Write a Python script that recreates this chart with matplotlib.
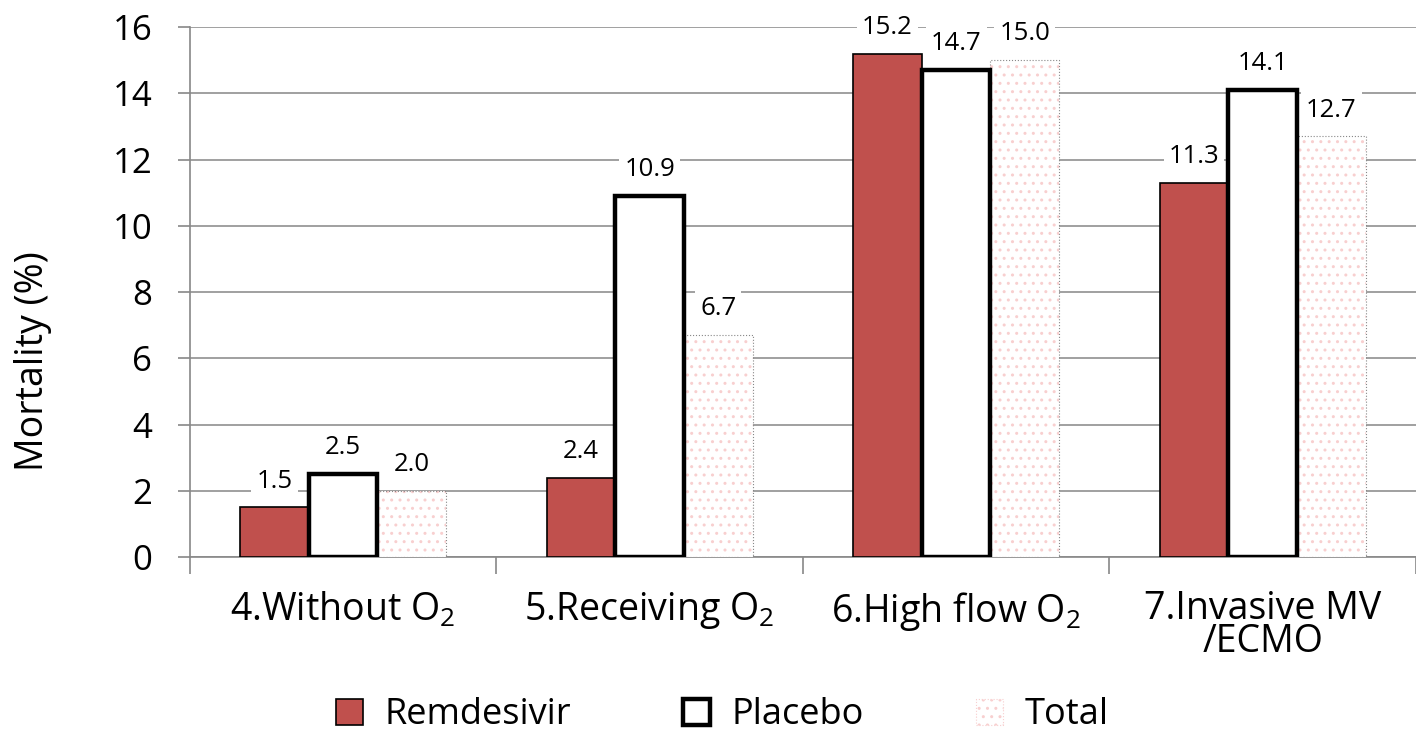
import numpy as np
import matplotlib
matplotlib.use("Agg")
import matplotlib.pyplot as plt
from matplotlib.patches import Patch

plt.rcParams['font.family'] = ['Open Sans', 'DejaVu Sans']
plt.rcParams['mathtext.default'] = 'regular'
plt.rcParams['hatch.linewidth'] = 1.0

# data
categories = ["4.Without O$_2$", "5.Receiving O$_2$", "6.High flow O$_2$", "7.Invasive MV\n/ECMO"]
remdesivir = [1.5, 2.4, 15.2, 11.3]
placebo = [2.5, 10.9, 14.7, 14.1]
total = [2.0, 6.7, 15.0, 12.7]
yticks = [0, 2, 4, 6, 8, 10, 12, 14, 16]

fig = plt.figure(figsize=(14.16, 7.33), dpi=100)
ax = fig.add_axes([0.134, 0.24, 0.866, 0.723])

x = np.arange(len(categories))
w = 0.224

red = "#C0504D"
pink = "#F8CFCF"

b1 = ax.bar(x - w, remdesivir, w, color=red, edgecolor="black", linewidth=1.2, zorder=3)
b2 = ax.bar(x, placebo, w, color="white", edgecolor="black", linewidth=3.2, zorder=4)
b3 = ax.bar(x + w, total, w, color="white", edgecolor=pink, linewidth=0, hatch="..", zorder=3)
ax.bar(x + w, total, w, fill=False, edgecolor="#888888", linewidth=0.8, linestyle=":", zorder=3)

# value labels
for bars, vals in [(b1, remdesivir), (b2, placebo), (b3, total)]:
    for bar, v in zip(bars, vals):
        ax.annotate(f"{v:.1f}", (bar.get_x() + bar.get_width() / 2, v),
                    xytext=(0, 10), textcoords="offset points", ha="center", va="bottom",
                    fontsize=18.5, zorder=5, annotation_clip=False,
                    bbox=dict(boxstyle="square,pad=0.2", fc="white", ec="none"))

ax.set_xlim(-0.5, len(categories) - 0.5)
ax.set_ylim(0, 16)
ax.set_yticks(yticks)
ax.tick_params(axis="y", labelsize=25, length=9, color="#888888", width=1.2, pad=18)
ax.yaxis.grid(True, color="#999999", linewidth=1.3, zorder=0)
ax.set_axisbelow(True)

# tick marks at category boundaries, labels at centres
ax.set_xticks(np.arange(-0.5, len(categories), 1.0))
ax.set_xticklabels([])
ax.tick_params(axis="x", which="major", length=12, color="#888888", width=1.2)
ax.set_xticks(x, minor=True)
ax.set_xticklabels(categories, minor=True, fontsize=27, linespacing=0.8)
ax.tick_params(axis="x", which="minor", length=0, pad=24)

for s in ["top", "right"]:
    ax.spines[s].set_visible(False)
ax.spines["left"].set_color("#888888")
ax.spines["left"].set_linewidth(1.2)
ax.spines["bottom"].set_color("#888888")
ax.spines["bottom"].set_linewidth(1.2)

ax.set_ylabel("Mortality (%)", fontsize=27, va="center")
ax.yaxis.set_label_coords(-0.128, 0.37)

handles = [
    Patch(facecolor=red, edgecolor="black", linewidth=1.2),
    Patch(facecolor="white", edgecolor="black", linewidth=3.2),
    Patch(facecolor="white", edgecolor=pink, hatch="..", linewidth=0.8, linestyle=":"),
]
fig.legend(handles, ["Remdesivir", "Placebo", "Total"], loc="lower center",
           bbox_to_anchor=(0.51, -0.045), ncol=3, frameon=False, fontsize=26,
           handlelength=0.75, handleheight=0.75, handletextpad=0.6, columnspacing=3.1)

fig.savefig("out.png", dpi=100)
